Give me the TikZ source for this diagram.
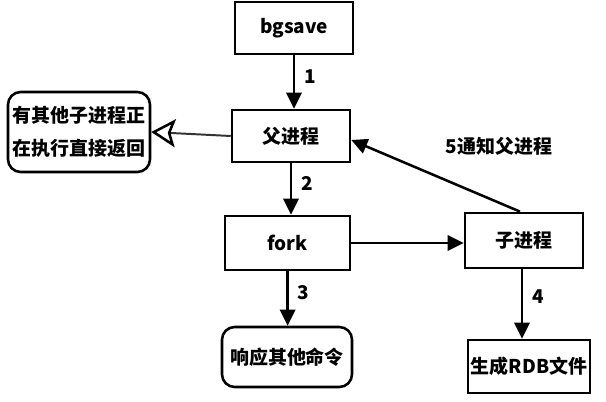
\documentclass[tikz,border=0pt]{standalone}
\usepackage{fontspec}
\setmainfont{Noto Sans CJK SC}
\usetikzlibrary{arrows.meta,positioning}

\begin{document}
\begin{tikzpicture}[
  every node/.style={font=\fontsize{13.5}{17}\selectfont\bfseries},
  box/.style ={draw, line width=1.8pt, minimum width=2.95cm, minimum height=1.3cm,
               inner sep=2pt},
  rbox/.style={box, rounded corners=9pt},
  arr/.style ={line width=1.8pt, -{Triangle[length=4mm,width=3.8mm]}},
  harr/.style={line width=1.4pt, draw=black!80,
               -{Stealth[open,length=6mm,width=7mm,inset=1.2mm,line width=1.8pt,
                 color=black,fill=white]}},
  lbl/.style ={midway, right=3pt}
]
\useasboundingbox (0,0) rectangle (15.15,-10.05);

%% boxes
\node[box] (bg)  at (7.35,-0.70)  {bgsave};
\node[box] (par) at (7.275,-3.40) {父进程};
\node[rbox, minimum width=3.55cm, minimum height=2cm, align=center,
      font=\fontsize{13.5}{23}\selectfont\bfseries] (busy) at (1.975,-3.30)
      {有其他子进程正\\在执行直接返回};
\node[box, minimum width=3.125cm, minimum height=1.35cm] (fk) at (7.19,-6.075) {fork};
\node[box, minimum height=1.375cm] (ch) at (13.1,-6.01) {子进程};
\node[rbox, minimum width=3.25cm, minimum height=1.5cm] (resp) at (7.175,-8.925) {响应其他命令};
\node[box, minimum width=3.05cm, minimum height=1.325cm] (rdb) at (13.225,-9.16) {生成RDB文件};

%% arrows
\draw[arr] (bg.south) -- (bg.south |- par.north) node[lbl, pos=0.4] {1};
\draw[arr] (par.south) -- (par.south |- fk.north) node[lbl, pos=0.4] {2};
\draw[arr] (fk.south) -- (fk.south |- resp.north) node[lbl, pos=0.4] {3};
\draw[arr] ([xshift=-0.05cm]ch.south) -- ([xshift=-0.05cm]ch.south |- rdb.north) node[lbl, pos=0.4] {4};
\draw[arr] (fk.east) -- (fk.east -| ch.west);
\draw[arr] ([xshift=-0.1cm]ch.north) -- ([yshift=-0.1cm]par.east)
  node[midway, above right=3.5mm and 1mm] {5通知父进程};
\draw[harr] (par.west) -- (busy.east);
\end{tikzpicture}
\end{document}
